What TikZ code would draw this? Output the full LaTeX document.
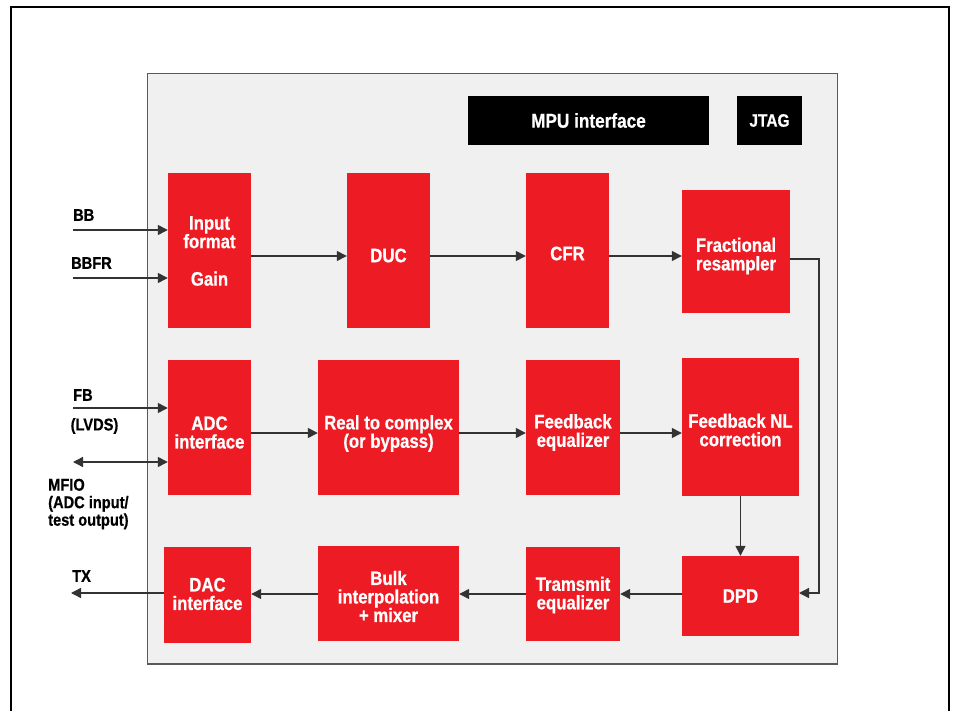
\documentclass[tikz,border=0pt]{standalone}
\usepackage{fontspec}
\setmainfont{Liberation Sans}[FakeStretch=0.86, BoldFeatures={FakeBold=0.6}]
\usetikzlibrary{arrows.meta}
\definecolor{adired}{HTML}{ED1C24}
\definecolor{panel}{HTML}{F0F0F0}
\definecolor{wire}{HTML}{333333}
\tikzset{
  blk/.style={fill=adired, inner sep=0pt},
  btxt/.style={text=white, font=\bfseries\fontsize{19.5}{18.5}\selectfont, align=center, inner sep=0pt},
  blackblk/.style={fill=black, text=white, font=\bfseries\fontsize{20}{18}\selectfont, align=center, inner sep=0pt},
  lbl/.style={text=black, font=\bfseries\fontsize{17}{17.5}\selectfont, inner sep=0pt},
  wirearrow/.style={draw=wire, line width=1.4pt, -{Triangle[length=10pt,width=10pt]}},
}
\begin{document}
\begin{tikzpicture}[x=1pt,y=-1pt]
\useasboundingbox (0,0) rectangle (953,711);
\fill[white] (0,0) rectangle (953,711);
% outer frame (open at the bottom)
\draw[line width=2pt] (10.5,711) -- (10.5,7.5) -- (949,7.5) -- (949,711);
% inner panel
\draw[fill=panel, draw=black!65, line width=1.5pt] (147.5,73.5) rectangle (837.5,664);

% top row interface blocks
\node[blackblk, minimum width=241, minimum height=49] (mpu) at (588.5,120.5) {MPU interface};
\node[blackblk, minimum width=65, minimum height=49, font=\bfseries\fontsize{18}{18}\selectfont] (jtag) at (769.5,120.5) {JTAG};

% row 1
\node[blk, minimum width=83, minimum height=155] (inp) at (209.5,250.5) {};
\node[btxt] (inptxt) at (209.5,251) {Input\\format\\[19pt]Gain};
\node[blk, minimum width=83, minimum height=155] (duc) at (388.5,250.5) {};
\node[btxt] (ductxt) at ([yshift=-5pt]duc.center) {DUC};
\node[blk, minimum width=83, minimum height=155] (cfr) at (567.5,250.5) {};
\node[btxt] (cfrtxt) at ([yshift=-3pt]cfr.center) {CFR};
\node[blk, minimum width=108, minimum height=123] (frac) at (736,251.5) {};
\node[btxt] (fractxt) at (736,256) {Fractional\\resampler};

% row 2
\node[blk, minimum width=83, minimum height=135] (adc) at (209.5,427.5) {};
\node[btxt] (adctxt) at ([yshift=-5pt]adc.center) {ADC\\interface};
\node[blk, minimum width=141, minimum height=135] (r2c) at (388.5,427.5) {};
\node[btxt] (r2ctxt) at ([yshift=-6pt]r2c.center) {Real to complex\\(or bypass)};
\node[blk, minimum width=94, minimum height=135] (feq) at (573,427.5) {};
\node[btxt] (feqtxt) at ([yshift=-5pt]feq.center) {Feedback\\equalizer};
\node[blk, minimum width=117, minimum height=138] (fnl) at (740.5,427) {};
\node[btxt] (fnltxt) at ([yshift=-3pt]fnl.center) {Feedback NL\\correction};

% row 3
\node[blk, minimum width=87, minimum height=96] (dac) at (207.5,595) {};
\node[btxt] (dactxt) at ([yshift=1pt]dac.center) {DAC\\interface};
\node[blk, minimum width=141, minimum height=95] (bulk) at (388.5,593.5) {};
\node[btxt] (bulktxt) at ([yshift=-3pt]bulk.center) {Bulk\\interpolation\\+ mixer};
\node[blk, minimum width=94, minimum height=94] (teq) at (573,594) {};
\node[btxt] (teqtxt) at ([yshift=-1pt]teq.center) {Tramsmit\\equalizer};
\node[blk, minimum width=117, minimum height=80] (dpd) at (740.5,596) {};
\node[btxt] (dpdtxt) at (dpd.center) {DPD};

% rows for connectors
\coordinate (row1) at (0,256);
\coordinate (row2) at (0,433);
\coordinate (row3) at (0,594);

% external labels
\node[lbl, anchor=west] (bbl) at (73,215) {BB};
\node[lbl, anchor=west] (bbfrl) at (71,263) {BBFR};
\node[lbl, anchor=west] (fbl) at (73,395) {FB};
\node[lbl] (lvds) at (94.5,426) {(LVDS)};
\node[lbl, anchor=west, align=left] (mfiol) at (48,504) {MFIO\\(ADC input/\\test output)};
\node[lbl, anchor=west] (txl) at (72,576) {TX};

% external connectors
\coordinate (bbs) at (73,230);
\coordinate (bbfrs) at (73,278);
\coordinate (fbs) at (73,408);
\coordinate (mfios) at (73,462);
\coordinate (txe) at (71,593);
\draw[wirearrow] (bbs) -- (inp.west |- bbs);
\draw[wirearrow] (bbfrs) -- (inp.west |- bbfrs);
\draw[wirearrow] (fbs) -- (adc.west |- fbs);
\draw[draw=wire, line width=1.4pt, {Triangle[length=10pt,width=10pt]}-{Triangle[length=10pt,width=10pt]}] (mfios) -- (adc.west |- mfios);
\draw[wirearrow] (dac.west |- txe) -- (txe);

% internal connectors
\draw[wirearrow] (inp.east |- row1) -- (duc.west |- row1);
\draw[wirearrow] (duc.east |- row1) -- (cfr.west |- row1);
\draw[wirearrow] (cfr.east |- row1) -- (frac.west |- row1);
\coordinate (fracout) at (790,259);
\coordinate (bend) at (819,259);
\coordinate (dpdin) at (799,593);
\draw[wirearrow] (fracout) -- (bend) |- (dpdin);
\draw[wirearrow] (adc.east |- row2) -- (r2c.west |- row2);
\draw[wirearrow] (r2c.east |- row2) -- (feq.west |- row2);
\draw[wirearrow] (feq.east |- row2) -- (fnl.west |- row2);
\draw[wirearrow] (fnl.south) -- (dpd.north);
\draw[wirearrow] (dpd.west |- row3) -- (teq.east |- row3);
\draw[wirearrow] (teq.west |- row3) -- (bulk.east |- row3);
\draw[wirearrow] (bulk.west |- row3) -- (dac.east |- row3);
\end{tikzpicture}
\end{document}
